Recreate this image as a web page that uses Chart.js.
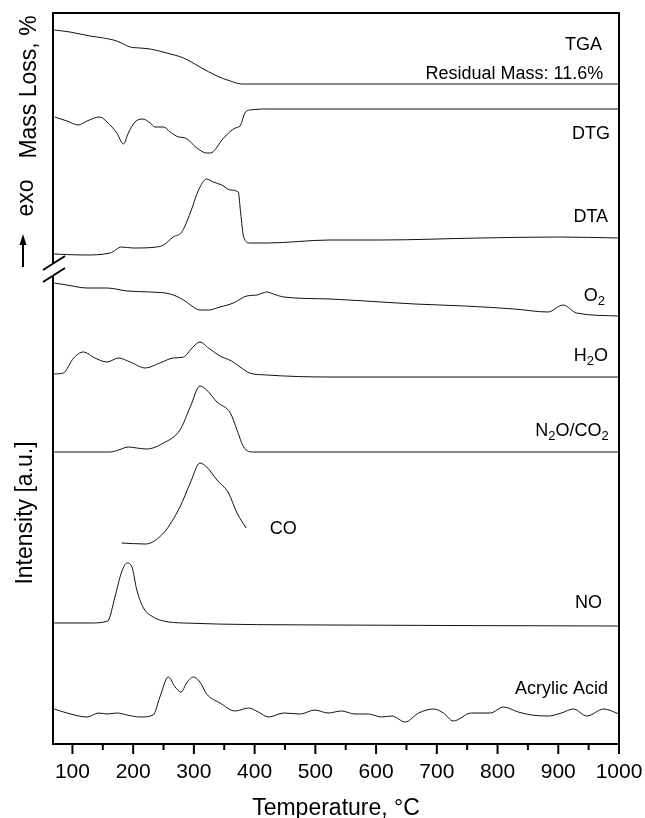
<!DOCTYPE html>
<html>
<head>
<meta charset="utf-8">
<title>TGA / DTG / DTA and evolved gas traces</title>
<script src="https://cdn.jsdelivr.net/npm/chart.js@4.4.6/dist/chart.umd.min.js"></script>
<style>
  html, body { margin: 0; padding: 0; background: #fff; }
  canvas { display: block; }
</style>
</head>
<body>
<canvas id="chart-thermal" width="645" height="818"></canvas>
<script>
// Stacked thermal analysis + MS traces. Y values are offset intensities (a.u.).

const TEMP_MIN = 68;
const TEMP_MAX = 1000;
const Y_MAX = 731;

const majorTicks = [100, 200, 300, 400, 500, 600, 700, 800, 900, 1000];
const minorTicks = [150, 250, 350, 450, 550, 650, 750, 850, 950];

// ---- traces: temperature (°C) + stacked intensity ----
const tgaT = [70, 96, 129, 151, 173, 195, 211, 228, 255, 283, 310, 338, 360, 379, 1000];
const tgaY = [714, 712, 708, 706, 703, 697, 696, 695, 691, 686, 677, 668, 663, 660, 660];

const dtgT = [71, 91, 110, 124, 145, 157, 173, 184, 192, 203, 216, 228, 236, 250, 261, 275, 286, 305, 321, 327, 349, 368, 376, 384, 392, 425, 1000];
const dtgY = [627, 623, 619, 623, 627, 622, 611, 600, 611, 622, 625, 621, 617, 617, 612, 607, 606, 596, 591, 591, 606, 616, 618, 631, 634, 635, 635];

const dtaT = [70, 118, 162, 181, 200, 239, 250, 266, 280, 294, 307, 321, 332, 346, 360, 373, 377, 382, 392, 420, 524, 607, 771, 900, 1000];
const dtaY = [490, 489, 491, 497, 496, 497, 499, 507, 512, 531, 553, 565, 562, 559, 554, 552, 531, 507, 501, 501, 504, 504, 506, 507, 506];

const o2T = [70, 91, 124, 157, 190, 228, 261, 283, 299, 310, 324, 343, 365, 387, 404, 420, 431, 448, 524, 582, 664, 746, 828, 883, 908, 930, 1000];
const o2Y = [461, 459, 456, 456, 453, 452, 450, 444, 437, 434, 434, 437, 441, 448, 449, 452, 450, 447, 445, 443, 440, 438, 435, 432, 439, 431, 428];

const h2oT = [70, 85, 102, 118, 137, 157, 176, 195, 220, 244, 266, 283, 297, 310, 324, 343, 362, 376, 392, 420, 524, 752, 1000];
const h2oY = [370, 371, 386, 392, 386, 382, 386, 382, 376, 381, 386, 387, 396, 402, 396, 388, 383, 377, 371, 369, 367, 367, 367];

const n2oT = [70, 162, 176, 192, 206, 222, 250, 277, 294, 310, 321, 338, 360, 371, 382, 398, 1000];
const n2oY = [292, 292, 294, 297, 296, 295, 301, 314, 337, 358, 354, 342, 331, 314, 297, 292, 292];

const coT = [181, 220, 250, 277, 294, 310, 321, 338, 357, 371, 386];
const coY = [201, 200, 211, 237, 261, 281, 277, 264, 251, 231, 216];

const noT = [70, 129, 158, 170, 181, 190, 198, 206, 217, 233, 250, 283, 524, 1000];
const noY = [121, 121, 123, 147, 172, 181, 177, 154, 136, 127, 123, 121, 119, 118];

const acrT = [70, 91, 124, 143, 157, 173, 190, 211, 233, 244, 258, 269, 279, 288, 299, 310, 321, 343, 368, 390, 406, 423, 448, 475, 499, 521, 543, 565, 587, 609, 626, 648, 670, 695, 711, 727, 757, 788, 810, 834, 856, 884, 905, 925, 947, 975, 1000];
const acrY = [35, 31, 27, 31, 30, 31, 29, 27, 29, 47, 67, 57, 52, 61, 67, 62, 50, 41, 33, 36, 32, 27, 31, 30, 34, 31, 33, 30, 30, 27, 28, 22, 31, 35, 31, 23, 31, 31, 37, 32, 29, 28, 31, 35, 28, 35, 30];

// trace names: "_2" = subscript
const labelText  = ["TGA", "Residual Mass: 11.6%", "DTG", "DTA", "O_2", "H_2O", "N_2O/CO_2", "CO", "NO", "Acrylic Acid"];
const labelAtT   = [972, 974, 985, 982, 977, 982, 983, 425, 972, 982];
const labelAtY   = [701, 672, 612, 529, 450, 390, 315, 217, 143, 57];
const labelAlign = ["right", "right", "right", "right", "right", "right", "right", "left", "right", "right"];

const FONT = '"Liberation Sans", Arial, Helvetica, sans-serif';
const INK = "#000";

function pts(t, y) { return t.map((v, i) => ({ x: v, y: y[i] })); }

function trace(t, y) {
  return {
    data: pts(t, y),
    borderColor: "#111",
    borderWidth: 1,
    pointRadius: 0,
    fill: false,
    cubicInterpolationMode: "monotone",
  };
}

// text with subscripts
function drawRich(ctx, str, x, y, align) {
  const parts = [];
  for (let i = 0; i < str.length; i++) {
    if (str[i] === "_") { parts.push({ t: str[i + 1], sub: true }); i++; }
    else parts.push({ t: str[i], sub: false });
  }
  // merge runs so normal text keeps kerning
  const runs = [];
  for (const p of parts) {
    const last = runs[runs.length - 1];
    if (last && last.sub === p.sub) last.t += p.t; else runs.push({ ...p });
  }
  const fontFor = r => r.sub ? `13px ${FONT}` : `18px ${FONT}`;
  let w = 0;
  for (const r of runs) { ctx.font = fontFor(r); r.w = ctx.measureText(r.t).width; w += r.w; }
  let cx = align === "right" ? x - w : x;
  ctx.textAlign = "left";
  ctx.textBaseline = "alphabetic";
  for (const r of runs) {
    ctx.font = fontFor(r);
    ctx.fillText(r.t, cx, r.sub ? y + 4 : y);
    cx += r.w;
  }
}

function vText(ctx, text, xBase, yCenter) {
  ctx.save();
  ctx.translate(xBase, yCenter);
  ctx.rotate(-Math.PI / 2);
  ctx.font = `23px ${FONT}`;
  ctx.textAlign = "center";
  ctx.textBaseline = "alphabetic";
  ctx.fillText(text, 0, 0);
  ctx.restore();
}

function line(ctx, x1, y1, x2, y2) {
  ctx.beginPath();
  ctx.moveTo(x1, y1);
  ctx.lineTo(x2, y2);
  ctx.stroke();
}

const decorations = {
  id: "decorations",
  afterDatasetsDraw(chart) {
    const { ctx, chartArea: a, scales: { x, y } } = chart;
    ctx.save();
    ctx.strokeStyle = INK;
    ctx.fillStyle = INK;
    ctx.lineWidth = 2;
    ctx.lineCap = "butt";

    // frame, left axis broken between the thermal and MS blocks
    const L = a.left, R = a.right, T = a.top, B = a.bottom;
    line(ctx, L - 1, T, R + 1, T);
    line(ctx, R, T, R, B);
    line(ctx, L - 1, B, R + 1, B);
    line(ctx, L, T, L, 263);
    line(ctx, L, 276, L, B);
    // break marks
    line(ctx, 43, 270, 65, 256);
    line(ctx, 43, 282, 65, 268);

    // ticks (outside)
    for (const v of majorTicks) { const px = x.getPixelForValue(v); line(ctx, px, B, px, B + 10); }
    for (const v of minorTicks) { const px = x.getPixelForValue(v); line(ctx, px, B, px, B + 6); }

    // trace labels
    labelText.forEach((s, i) => {
      drawRich(ctx, s, x.getPixelForValue(labelAtT[i]), y.getPixelForValue(labelAtY[i]) + 6.5, labelAlign[i]);
    });

    // left titles
    vText(ctx, "Mass Loss, %", 36, 87);
    vText(ctx, "exo", 33, 198);
    vText(ctx, "Intensity [a.u.]", 32, 513);

    // up arrow next to "exo"
    ctx.lineWidth = 2;
    line(ctx, 23, 267, 23, 243);
    ctx.beginPath();
    ctx.moveTo(23, 234);
    ctx.lineTo(19.5, 245);
    ctx.lineTo(26.5, 245);
    ctx.closePath();
    ctx.fill();

    ctx.restore();
  },
};

new Chart(document.getElementById("chart-thermal"), {
  type: "line",
  data: {
    datasets: [
      trace(tgaT, tgaY),
      trace(dtgT, dtgY),
      trace(dtaT, dtaY),
      trace(o2T, o2Y),
      trace(h2oT, h2oY),
      trace(n2oT, n2oY),
      trace(coT, coY),
      trace(noT, noY),
      trace(acrT, acrY),
    ],
  },
  options: {
    responsive: false,
    animation: false,
    events: [],
    layout: { padding: { left: 53, top: 13, right: 26, bottom: 0 } },
    plugins: { legend: { display: false }, tooltip: { enabled: false } },
    scales: {
      x: {
        type: "linear",
        min: TEMP_MIN,
        max: TEMP_MAX,
        afterBuildTicks: s => { s.ticks = majorTicks.map(v => ({ value: v })); },
        afterFit: s => { s.height = 74; s.paddingLeft = 0; s.paddingRight = 0; },
        grid: { display: false, drawTicks: false },
        border: { display: false },
        ticks: {
          autoSkip: false,
          maxRotation: 0,
          padding: 16,
          color: INK,
          font: { family: FONT, size: 21 },
          callback: v => String(v),
        },
        title: {
          display: true,
          text: "Temperature, °C",
          color: INK,
          font: { family: FONT, size: 23 },
          padding: { top: 0, bottom: -4 },
        },
      },
      y: {
        type: "linear",
        display: false,
        min: 0,
        max: Y_MAX,
      },
    },
  },
  plugins: [decorations],
});
</script>
</body>
</html>
